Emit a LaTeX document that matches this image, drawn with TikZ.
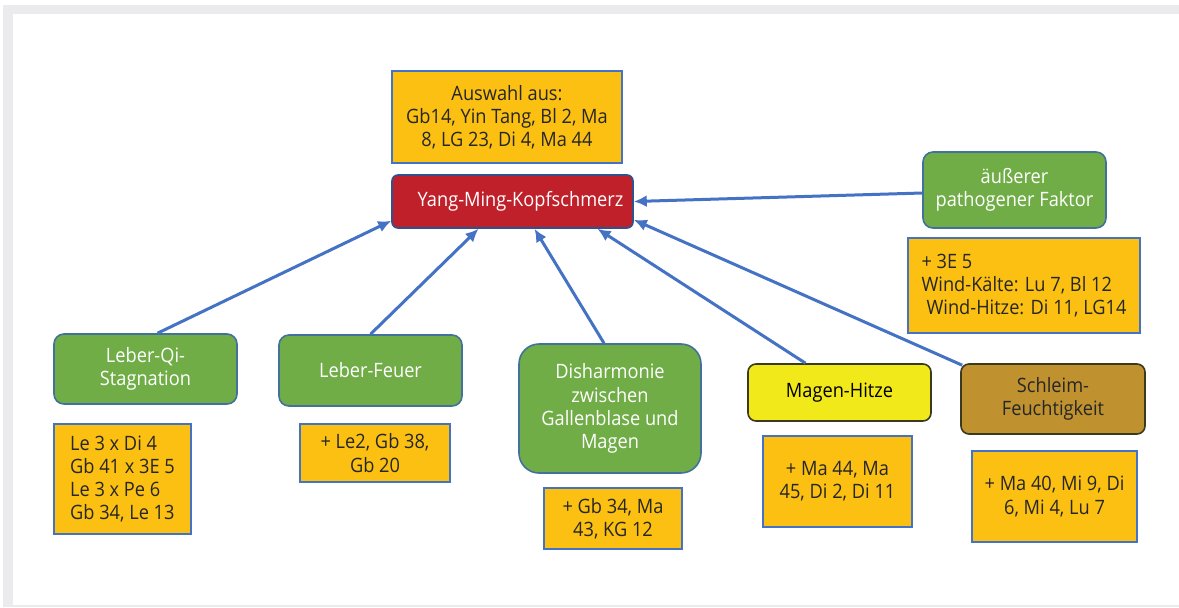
\documentclass[tikz,border=0pt]{standalone}
\usepackage{fontspec}
\setmainfont[FakeStretch=0.92]{Open Sans}
\usepackage{xcolor}
\usepackage{tikz}
\usetikzlibrary{arrows.meta}

\definecolor{amber}{HTML}{FBC012}
\definecolor{darktext}{HTML}{262626}
\definecolor{lineblue}{HTML}{4472C4}
\definecolor{leafgreen}{HTML}{70AD47}
\definecolor{greenborder}{HTML}{41719C}
\definecolor{headred}{HTML}{C0202A}
\definecolor{redborder}{HTML}{2F528F}
\definecolor{heatyellow}{HTML}{F1E91A}
\definecolor{phlegm}{HTML}{BF922F}
\definecolor{darkborder}{HTML}{3A3A1E}
\definecolor{framegray}{HTML}{EBEBED}

\begin{document}
\begin{tikzpicture}[x=0.5pt,y=-0.5pt,
    every node/.style={font=\fontsize{9.9}{11.6}\selectfont, inner sep=0pt, align=center},
    pointbox/.style={draw=lineblue, line width=0.8pt, fill=amber, text=darktext},
    syndrome/.style={draw=greenborder, line width=0.8pt, fill=leafgreen, text=white, rounded corners=5pt},
    link/.style={draw=lineblue, line width=1.5pt, -{Latex[length=6.5pt,width=6pt]}}]
    \useasboundingbox (0,0) rectangle (1179,607);

    % Frame
    \fill[framegray] (3,5) rectangle (1179,607);
    \fill[white] (13,14) rectangle (1179,605);

    % Main syndrome
    \node[pointbox, minimum width=115pt, minimum height=46pt] (aw) at (507,117)
        {Auswahl aus:\\Gb14, Yin Tang, Bl 2, Ma\\8, LG 23, Di 4, Ma 44};
    \node[draw=redborder, line width=0.8pt, fill=headred, text=white, rounded corners=3pt,
        minimum width=120.5pt, minimum height=26.5pt] (ym) at (512.5,201.5) {\hspace*{8pt}Yang-Ming-Kopfschmerz};

    % External factor
    \node[syndrome, minimum width=91.5pt, minimum height=38pt] (af) at (1014.5,190)
        {äußerer\\pathogener Faktor};
    \node[pointbox, align=left, minimum width=116pt, minimum height=47.5pt] (wk) at (1024,285.5)
        {+ 3E 5\\Wind-Kälte: Lu 7, Bl 12\\\hspace*{2.5pt}Wind-Hitze: Di 11, LG14};

    % Liver
    \node[syndrome, minimum width=91.5pt, minimum height=35pt] (lqi) at (145.5,369)
        {Leber-Qi-\\Stagnation};
    \node[pointbox, align=left, minimum width=68.5pt, minimum height=55pt] (lqip) at (122.5,479)
        {Le 3 x Di 4\\Gb 41 x 3E 5\\Le 3 x Pe 6\\Gb 34, Le 13};
    \node[syndrome, minimum width=91.5pt, minimum height=35.5pt] (lf) at (370.5,370.5) {Leber-Feuer};
    \node[pointbox, minimum width=75pt, minimum height=29pt] (lfp) at (375,453)
        {+ Le2, Gb 38,\\Gb 20};

    % Gallbladder / stomach
    \node[syndrome, rounded corners=10pt, minimum width=91pt, minimum height=64.5pt] (dis) at (610,408.5)
        {Disharmonie\\zwischen\\Gallenblase und\\Magen};
    \node[pointbox, minimum width=69pt, minimum height=30.5pt] (disp) at (613,518.5)
        {+ Gb 34, Ma\\43, KG 12};

    % Stomach heat
    \node[draw=darkborder, line width=0.8pt, fill=heatyellow, text=black, rounded corners=4pt,
        minimum width=91.5pt, minimum height=28.5pt] (mh) at (839.5,392.5) {Magen-Hitze};
    \node[pointbox, minimum width=74.5pt, minimum height=45.5pt] (mhp) at (837.5,481.5)
        {+ Ma 44, Ma\\45, Di 2, Di 11};

    % Phlegm damp
    \node[draw=darkborder, line width=0.8pt, fill=phlegm, text=darktext, rounded corners=4pt,
        minimum width=92pt, minimum height=35pt] (sf) at (1053,399) {Schleim-\\Feuchtigkeit};
    \node[pointbox, minimum width=82.5pt, minimum height=45.5pt] (sfp) at (1054.5,496.5)
        {+ Ma 40, Mi 9, Di\\6, Mi 4, Lu 7};

    % Arrows
    \draw[link] ([xshift=6pt]lqi.north) -- ([yshift=4pt]ym.south west);
    \draw[link] (lf.north) -- ([xshift=-17pt]ym.south);
    \draw[link] ([xshift=-3pt]dis.north) -- ([xshift=11pt]ym.south);
    \draw[link] ([xshift=-17pt]mh.north) -- ([xshift=42.5pt]ym.south);
    \draw[link] ([shift={(1pt,-1pt)}]sf.north west) -- ([yshift=4.5pt]ym.south east);
    \draw[link] ([yshift=-1.5pt]af.west) -- (ym.east);
\end{tikzpicture}
\end{document}
